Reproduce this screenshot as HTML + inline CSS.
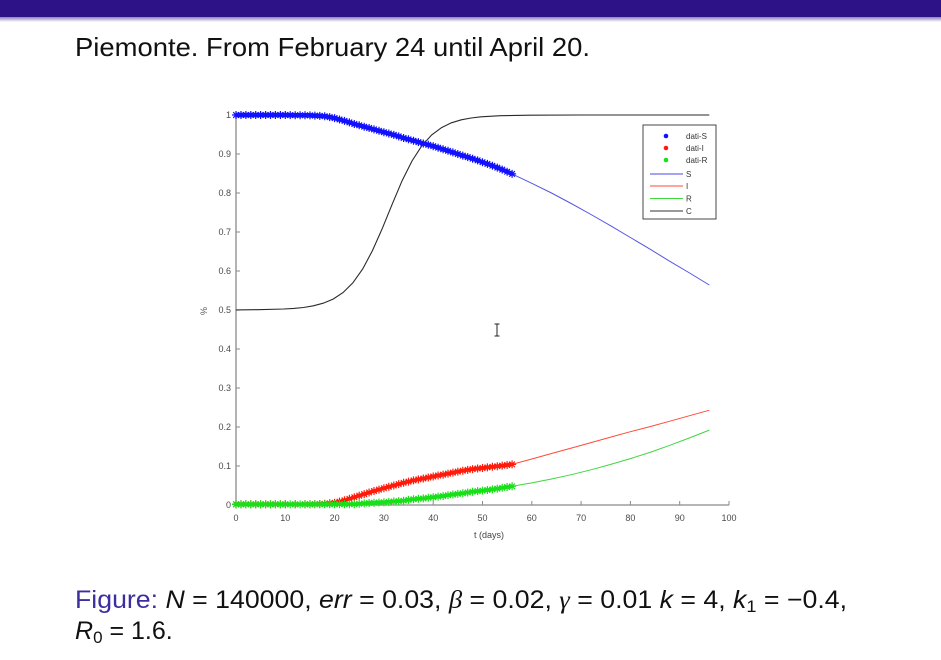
<!DOCTYPE html>
<html>
<head>
<meta charset="utf-8">
<style>
html,body{margin:0;padding:0;background:#fff;}
svg{display:block;}
</style>
</head>
<body>
<svg width="941" height="660" viewBox="0 0 941 660" xmlns="http://www.w3.org/2000/svg">
<defs>
<linearGradient id="bar" x1="0" y1="0" x2="0" y2="1">
<stop offset="0" stop-color="#8a7fc0"/>
<stop offset="1" stop-color="#ffffff"/>
</linearGradient>
<marker id="mb" markerUnits="userSpaceOnUse" markerWidth="9" markerHeight="9" refX="4.5" refY="4.5" overflow="visible">
<path d="M4.5 0.5V8.5M0.5 4.5H8.5M1.7 1.7L7.3 7.3M7.3 1.7L1.7 7.3" stroke="#1010ff" stroke-width="1.2" fill="none"/>
</marker>
<marker id="mr" markerUnits="userSpaceOnUse" markerWidth="9" markerHeight="9" refX="4.5" refY="4.5" overflow="visible">
<path d="M4.5 0.5V8.5M0.5 4.5H8.5M1.7 1.7L7.3 7.3M7.3 1.7L1.7 7.3" stroke="#ff1a0a" stroke-width="1.2" fill="none"/>
</marker>
<marker id="mg" markerUnits="userSpaceOnUse" markerWidth="9" markerHeight="9" refX="4.5" refY="4.5" overflow="visible">
<path d="M4.5 0.5V8.5M0.5 4.5H8.5M1.7 1.7L7.3 7.3M7.3 1.7L1.7 7.3" stroke="#18e018" stroke-width="1.2" fill="none"/>
</marker>
</defs>

<rect x="0" y="0" width="941" height="660" fill="#ffffff"/>
<rect x="0" y="0" width="941" height="17" fill="#2d1186"/>
<rect x="0" y="17" width="941" height="5" fill="url(#bar)"/>

<text x="75" y="56" font-family="Liberation Sans, sans-serif" font-size="26" fill="#111" textLength="515" lengthAdjust="spacingAndGlyphs">Piemonte.  From February 24 until April 20.</text>

<g stroke="#8a8a8a" stroke-width="1.3" fill="none">
<line x1="236" y1="115" x2="236" y2="505.5"/>
<line x1="235.5" y1="505" x2="729" y2="505"/>
</g>
<g stroke="#8a8a8a" stroke-width="1" fill="none">
<path d="M236 115h4M236 154h4M236 193h4M236 232h4M236 271h4M236 310h4M236 349h4M236 388h4M236 427h4M236 466h4"/>
<path d="M285.3 505v-4M334.6 505v-4M383.9 505v-4M433.2 505v-4M482.5 505v-4M531.8 505v-4M581.1 505v-4M630.4 505v-4M679.7 505v-4M729 505v-4"/>
</g>
<g font-family="Liberation Sans, sans-serif" font-size="9" fill="#4a4a4a" text-anchor="end">
<text x="231" y="118">1</text>
<text x="231" y="157">0.9</text>
<text x="231" y="196">0.8</text>
<text x="231" y="235">0.7</text>
<text x="231" y="274">0.6</text>
<text x="231" y="313">0.5</text>
<text x="231" y="352">0.4</text>
<text x="231" y="391">0.3</text>
<text x="231" y="430">0.2</text>
<text x="231" y="469">0.1</text>
<text x="231" y="508">0</text>
</g>
<g font-family="Liberation Sans, sans-serif" font-size="9" fill="#4a4a4a" text-anchor="middle">
<text x="236" y="521">0</text>
<text x="285.3" y="521">10</text>
<text x="334.6" y="521">20</text>
<text x="383.9" y="521">30</text>
<text x="433.2" y="521">40</text>
<text x="482.5" y="521">50</text>
<text x="531.8" y="521">60</text>
<text x="581.1" y="521">70</text>
<text x="630.4" y="521">80</text>
<text x="679.7" y="521">90</text>
<text x="729" y="521">100</text>
</g>
<text x="489" y="538" font-family="Liberation Sans, sans-serif" font-size="9" fill="#444" text-anchor="middle">t (days)</text>
<text transform="translate(207,311) rotate(-90)" font-family="Liberation Sans, sans-serif" font-size="9" fill="#555" text-anchor="middle">%</text>

<polyline fill="none" stroke="#2a2a2a" stroke-width="1.1" points="236,309.9 258,309.7 283.8,309 293.7,308.4 303.5,307.5 313.4,305.8 323.2,303.2 333.1,299.1 343,292.6 352.8,282.9 362.7,269 372.5,250.5 382.4,228.2 392.3,203.9 402.1,180.7 412,161 421.8,145.8 431.7,134.9 441.6,127.6 451.4,122.8 461.3,119.8 471.1,118 481,116.8 500.7,115.7 530.3,115.15 579.6,115 709.3,115"/>

<polyline fill="none" stroke="#5555e6" stroke-width="1" points="236,115 314.9,115.6 334.6,118.1 354.3,124 383.9,132.2 433.2,146.2 472.6,158.7 512.1,173.9 531.8,183.3 551.5,193 571.2,203.5 591,214.5 610.7,225.8 630.4,237.5 650.1,249.2 669.8,261.3 689.6,273 709.3,285"/>
<polyline fill="none" stroke="#ff4a3a" stroke-width="1" points="236,504.8 324.7,504.2 344.5,500.3 383.9,488.2 433.2,476.5 472.6,469.1 512.1,464.4 531.8,459 551.5,453.5 571.2,448.1 591,442.6 610.7,437.1 630.4,431.7 650.1,426.6 669.8,421.2 689.6,415.7 709.3,410.2"/>
<polyline fill="none" stroke="#3fd63f" stroke-width="1" points="236,504.8 354.3,504.2 383.9,502.3 433.2,497.2 472.6,491.7 512.1,486.3 531.8,482.9 551.5,479 571.2,474.7 591,469.8 610.7,464.4 630.4,458.6 650.1,452.4 669.8,445.3 689.6,437.9 709.3,430.1"/>

<polyline fill="none" stroke="#2020ff" stroke-width="4.5" marker-start="url(#mb)" marker-mid="url(#mb)" marker-end="url(#mb)" points="236,115 241,115 245.9,115 250.8,115 255.7,115 260.6,115 265.6,115 270.5,115 275.4,115 280.4,115 285.3,115 290.2,115.1 295.2,115.2 300.1,115.2 305,115.3 310,115.4 314.9,115.6 319.8,115.9 324.7,116.2 329.7,117.1 334.6,118.1 339.5,119.5 344.5,120.9 349.4,122.4 354.3,124 359.2,125.3 364.2,126.7 369.1,128 374,129.4 379,130.8 383.9,132.2 388.8,133.5 393.8,134.9 398.7,136.4 403.6,138 408.5,139.3 413.5,140.7 418.4,142.1 423.3,143.5 428.3,144.8 433.2,146.2 438.1,147.7 443.1,149.3 448,150.8 452.9,152.4 457.8,154 462.8,155.6 467.7,157.1 472.6,158.7 477.6,160.4 482.5,162.2 487.4,163.9 492.4,165.7 497.3,167.6 502.2,169.6 507.1,171.7 512.1,173.9"/>

<polyline fill="none" stroke="#ff2010" stroke-width="3.5" marker-start="url(#mr)" marker-mid="url(#mr)" marker-end="url(#mr)" points="236,504.2 241,504.3 245.9,504.2 250.8,504.3 255.7,504.2 260.6,504.3 265.6,504.2 270.5,504.3 275.4,504.2 280.4,504.3 285.3,504.2 295.2,504.3 305,504.2 310,504.2 314.9,504.1 319.8,504 324.7,503.8 329.7,503.3 334.6,502.7 339.5,501.6 344.5,500.3 349.4,498.8 354.3,497.2 359.2,495.6 364.2,494.1 369.1,492.5 374,491 379,489.6 383.9,488.2 388.8,486.8 393.8,485.5 398.7,484.1 403.6,482.8 408.5,481.6 413.5,480.4 418.4,479.4 423.3,478.5 428.3,477.5 433.2,476.5 438.1,475.5 443.1,474.6 448,473.6 452.9,472.6 457.8,471.6 462.8,470.7 467.7,469.9 472.6,469.1 477.6,468.5 482.5,468 487.4,467.4 492.4,466.8 497.3,466.2 502.2,465.6 507.1,465 512.1,464.4"/>

<polyline fill="none" stroke="#20e020" stroke-width="3.5" marker-start="url(#mg)" marker-mid="url(#mg)" marker-end="url(#mg)" points="236,504.4 241,504.4 245.9,504.3 250.8,504.4 255.7,504.3 260.6,504.4 265.6,504.3 270.5,504.4 275.4,504.3 280.4,504.4 285.3,504.3 290.2,504.4 295.2,504.3 300.1,504.4 305,504.3 310,504.4 314.9,504.3 319.8,504.3 324.7,504.3 329.7,504.3 334.6,504.2 339.5,504.2 344.5,504.2 349.4,504.2 354.3,504.2 359.2,503.8 364.2,503.4 369.1,503 374,502.7 379,502.5 383.9,502.3 388.8,501.9 393.8,501.5 398.7,501.1 403.6,500.7 408.5,499.9 413.5,499.2 418.4,498.8 423.3,498.4 428.3,497.8 433.2,497.2 438.1,496.6 443.1,496 448,495.2 452.9,494.5 457.8,493.9 462.8,493.3 467.7,492.5 472.6,491.7 477.6,491.1 482.5,490.6 487.4,490 492.4,489.4 497.3,488.6 502.2,487.8 507.1,487 512.1,486.3"/>

<rect x="643" y="125" width="73" height="94" fill="#ffffff" stroke="#333" stroke-width="0.9"/>
<g font-family="Liberation Sans, sans-serif" font-size="8" fill="#333">
<circle cx="666" cy="136" r="2.3" fill="#1010ff"/>
<text x="686" y="139">dati-S</text>
<circle cx="666" cy="148" r="2.3" fill="#ff1a0a"/>
<text x="686" y="151">dati-I</text>
<circle cx="666" cy="160" r="2.3" fill="#18e018"/>
<text x="686" y="163">dati-R</text>
<line x1="650" y1="174" x2="683" y2="174" stroke="#4a4ae6" stroke-width="1"/>
<text x="686" y="177">S</text>
<line x1="650" y1="186" x2="683" y2="186" stroke="#ff4a3a" stroke-width="1"/>
<text x="686" y="189">I</text>
<line x1="650" y1="198.5" x2="683" y2="198.5" stroke="#3fd63f" stroke-width="1"/>
<text x="686" y="201.5">R</text>
<line x1="650" y1="211" x2="683" y2="211" stroke="#333" stroke-width="1.1"/>
<text x="686" y="214">C</text>
</g>

<path d="M497 324v12M494.5 324h5M494.5 336h5" stroke="#222" stroke-width="1" fill="none"/>

<text x="75" y="608" font-family="Liberation Sans, sans-serif" font-size="25" fill="#111" textLength="772" lengthAdjust="spacingAndGlyphs"><tspan fill="#3d2e9e">Figure:</tspan> <tspan font-style="italic">N</tspan> = 140000, <tspan font-style="italic">err</tspan> = 0.03, <tspan font-family="Liberation Serif, serif" font-style="italic">β</tspan> = 0.02, <tspan font-family="Liberation Serif, serif" font-style="italic">γ</tspan> = 0.01 <tspan font-style="italic">k</tspan> = 4, <tspan font-style="italic">k</tspan><tspan font-size="17" dy="4">1</tspan><tspan dy="-4"> = −0.4,</tspan></text>
<text x="75" y="639" font-family="Liberation Sans, sans-serif" font-size="25" fill="#111"><tspan font-style="italic">R</tspan><tspan font-size="17" dy="4">0</tspan><tspan dy="-4"> = 1.6.</tspan></text>
</svg>
</body>
</html>
